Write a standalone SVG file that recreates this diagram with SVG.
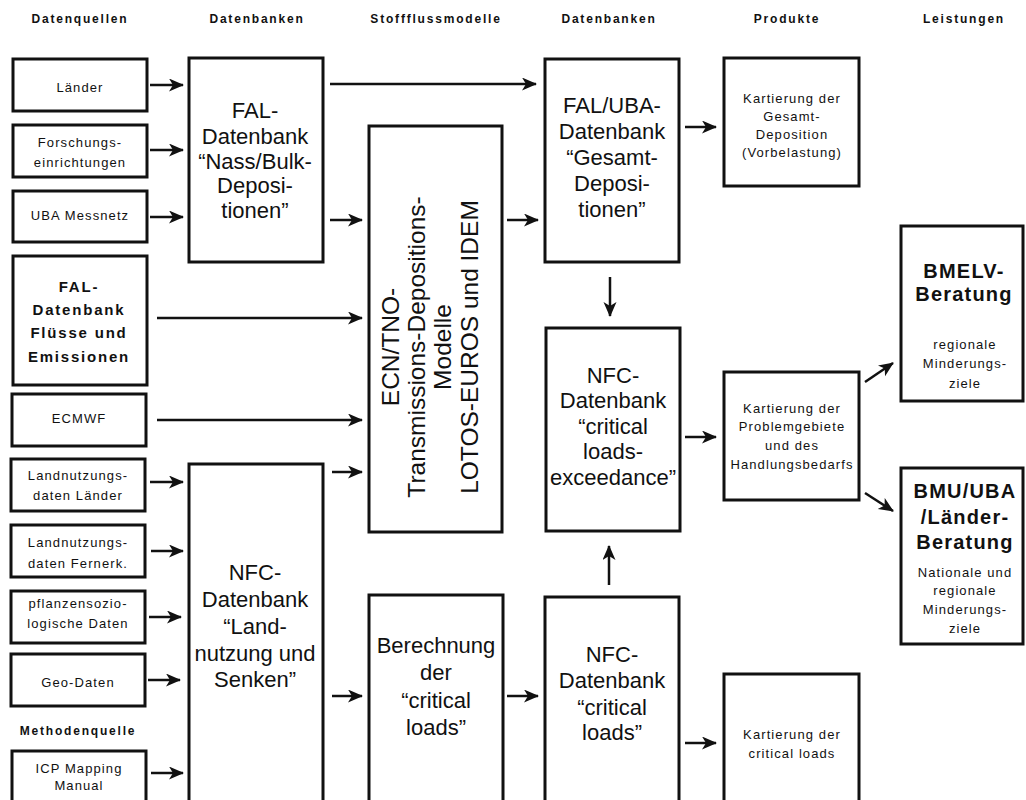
<svg xmlns="http://www.w3.org/2000/svg" width="1026" height="800" viewBox="0 0 1026 800">
<defs>
<style>
.box{fill:#fff;stroke:#111;stroke-width:3}
text{font-family:"Liberation Sans",Arial,sans-serif;fill:#111;text-anchor:middle}
.hdr{font-size:12px;font-weight:bold;letter-spacing:1.8px}
.sm{font-size:13px;letter-spacing:1.1px}
.lg{font-size:22px}
.ecn{font-size:24.5px}
.fl{font-size:15px;font-weight:bold;letter-spacing:1.8px}
.bb{font-size:20px;font-weight:bold;letter-spacing:1.2px}
.con line{stroke:#111;stroke-width:2.5;marker-end:url(#ah)}
</style>
<marker id="ah" markerUnits="userSpaceOnUse" markerWidth="16" markerHeight="14" refX="14" refY="6.5" orient="auto">
<path d="M0,0 L15,6.5 L0,13 L4,6.5 z" fill="#111"/>
</marker>
</defs>
<rect width="1026" height="800" fill="#fff"/>

<g id="headers">
<text class="hdr" x="80" y="23">Datenquellen</text>
<text class="hdr" x="257" y="23">Datenbanken</text>
<text class="hdr" x="436" y="23">Stoffflussmodelle</text>
<text class="hdr" x="609" y="23">Datenbanken</text>
<text class="hdr" x="787" y="23">Produkte</text>
<text class="hdr" x="964" y="23">Leistungen</text>
<text class="hdr" x="78" y="735">Methodenquelle</text>
</g>

<g id="laender"><rect class="box" x="13" y="59" width="134" height="52"/><text class="sm" x="80" y="92">Länder</text></g>
<g id="forschung"><rect class="box" x="13" y="125" width="134" height="52"/><text class="sm" x="80" y="147">Forschungs-</text><text class="sm" x="80" y="167">einrichtungen</text></g>
<g id="uba-messnetz"><rect class="box" x="13" y="191" width="134" height="51"/><text class="sm" x="80" y="220">UBA Messnetz</text></g>
<g id="fal-fluesse"><rect class="box" x="13" y="256" width="134" height="129"/><text class="fl" x="79" y="292">FAL-</text><text class="fl" x="79" y="315">Datenbank</text><text class="fl" x="79" y="338">Flüsse und</text><text class="fl" x="79" y="362">Emissionen</text></g>
<g id="ecmwf"><rect class="box" x="12" y="394" width="134" height="52"/><text class="sm" x="79" y="423">ECMWF</text></g>
<g id="landn-laender"><rect class="box" x="11" y="459" width="134" height="52"/><text class="sm" x="78" y="480">Landnutzungs-</text><text class="sm" x="78" y="500">daten Länder</text></g>
<g id="landn-fernerk"><rect class="box" x="11" y="525" width="134" height="52"/><text class="sm" x="78" y="547">Landnutzungs-</text><text class="sm" x="78" y="568">daten Fernerk.</text></g>
<g id="pflanzen"><rect class="box" x="11" y="591" width="134" height="52"/><text class="sm" x="78" y="608">pflanzensozio-</text><text class="sm" x="78" y="628">logische Daten</text></g>
<g id="geo"><rect class="box" x="11" y="654" width="134" height="52"/><text class="sm" x="78" y="687">Geo-Daten</text></g>
<g id="icp"><rect class="box" x="12" y="751" width="134" height="60"/><text class="sm" x="79" y="773">ICP Mapping</text><text class="sm" x="79" y="790">Manual</text></g>

<g id="fal-nass"><rect class="box" x="189" y="58" width="134" height="204"/>
<text class="lg" x="255" y="118">FAL-</text><text class="lg" x="255" y="144">Datenbank</text><text class="lg" x="255" y="169">“Nass/Bulk-</text><text class="lg" x="255" y="193">Deposi-</text><text class="lg" x="255" y="218">tionen”</text></g>
<g id="nfc-land"><rect class="box" x="189" y="464" width="134" height="350"/>
<text class="lg" x="255" y="580">NFC-</text><text class="lg" x="255" y="607">Datenbank</text><text class="lg" x="255" y="634">“Land-</text><text class="lg" x="255" y="661">nutzung und</text><text class="lg" x="255" y="687">Senken”</text></g>

<g id="ecn"><rect class="box" x="369" y="126" width="133" height="406"/>
<text class="ecn" transform="translate(399,347) rotate(-90)">ECN/TNO-</text>
<text class="ecn" transform="translate(425,347) rotate(-90)">Transmissions-Depositions-</text>
<text class="ecn" transform="translate(451,347) rotate(-90)">Modelle</text>
<text class="ecn" transform="translate(478,347) rotate(-90)">LOTOS-EUROS und IDEM</text></g>
<g id="berechnung"><rect class="box" x="369" y="595" width="134" height="220"/>
<text class="lg" x="436" y="653">Berechnung</text><text class="lg" x="436" y="680">der</text><text class="lg" x="436" y="708">“critical</text><text class="lg" x="436" y="735">loads”</text></g>

<g id="fal-uba"><rect class="box" x="545" y="59" width="134" height="203"/>
<text class="lg" x="612" y="113">FAL/UBA-</text><text class="lg" x="612" y="139">Datenbank</text><text class="lg" x="612" y="165">“Gesamt-</text><text class="lg" x="612" y="191">Deposi-</text><text class="lg" x="612" y="217">tionen”</text></g>
<g id="nfc-exceed"><rect class="box" x="546" y="328" width="134" height="203"/>
<text class="lg" x="613" y="383">NFC-</text><text class="lg" x="613" y="408">Datenbank</text><text class="lg" x="613" y="434">“critical</text><text class="lg" x="613" y="459">loads-</text><text class="lg" x="613" y="485">exceedance”</text></g>
<g id="nfc-cl"><rect class="box" x="545" y="597" width="134" height="220"/>
<text class="lg" x="612" y="662">NFC-</text><text class="lg" x="612" y="688">Datenbank</text><text class="lg" x="612" y="715">“critical</text><text class="lg" x="612" y="740">loads”</text></g>

<g id="kart-gesamt"><rect class="box" x="724" y="58" width="135" height="128"/>
<text class="sm" x="792" y="103">Kartierung der</text><text class="sm" x="792" y="121">Gesamt-</text><text class="sm" x="792" y="139">Deposition</text><text class="sm" x="792" y="157">(Vorbelastung)</text></g>
<g id="kart-problem"><rect class="box" x="724" y="372" width="135" height="128"/>
<text class="sm" x="792" y="413">Kartierung der</text><text class="sm" x="792" y="431">Problemgebiete</text><text class="sm" x="792" y="450">und des</text><text class="sm" x="792" y="469">Handlungsbedarfs</text></g>
<g id="kart-cl"><rect class="box" x="724" y="674" width="135" height="140"/>
<text class="sm" x="792" y="739">Kartierung der</text><text class="sm" x="792" y="758">critical loads</text></g>

<g id="bmelv"><rect class="box" x="901" y="226" width="122" height="175"/>
<text class="bb" x="964" y="278">BMELV-</text><text class="bb" x="964" y="301">Beratung</text>
<text class="sm" x="965" y="349">regionale</text><text class="sm" x="965" y="368">Minderungs-</text><text class="sm" x="965" y="388">ziele</text></g>
<g id="bmu"><rect class="box" x="901" y="468" width="122" height="176"/>
<text class="bb" x="965" y="498">BMU/UBA</text><text class="bb" x="965" y="524">/Länder-</text><text class="bb" x="965" y="549">Beratung</text>
<text class="sm" x="965" y="577">Nationale und</text><text class="sm" x="965" y="595">regionale</text><text class="sm" x="965" y="614">Minderungs-</text><text class="sm" x="965" y="633">ziele</text></g>

<g id="connectors" class="con">
<line x1="150" y1="85" x2="183" y2="85"/>
<line x1="150" y1="150" x2="183" y2="150"/>
<line x1="150" y1="217" x2="183" y2="217"/>
<line x1="330" y1="84" x2="536" y2="84"/>
<line x1="330" y1="220" x2="362" y2="220"/>
<line x1="157" y1="318" x2="362" y2="318"/>
<line x1="157" y1="420" x2="362" y2="420"/>
<line x1="332" y1="472" x2="362" y2="472"/>
<line x1="507" y1="220" x2="538" y2="220"/>
<line x1="610" y1="277" x2="610" y2="316"/>
<line x1="685" y1="127" x2="716" y2="127"/>
<line x1="685" y1="437" x2="716" y2="437"/>
<line x1="609" y1="585" x2="609" y2="546"/>
<line x1="332" y1="696" x2="362" y2="696"/>
<line x1="507" y1="696" x2="538" y2="696"/>
<line x1="685" y1="743" x2="716" y2="743"/>
<line x1="865" y1="382" x2="893" y2="363"/>
<line x1="865" y1="493" x2="893" y2="511"/>
<line x1="150" y1="482" x2="183" y2="482"/>
<line x1="151" y1="551" x2="183" y2="551"/>
<line x1="149" y1="617" x2="181" y2="617"/>
<line x1="148" y1="680" x2="180" y2="680"/>
<line x1="151" y1="773" x2="183" y2="773"/>
</g>
</svg>
